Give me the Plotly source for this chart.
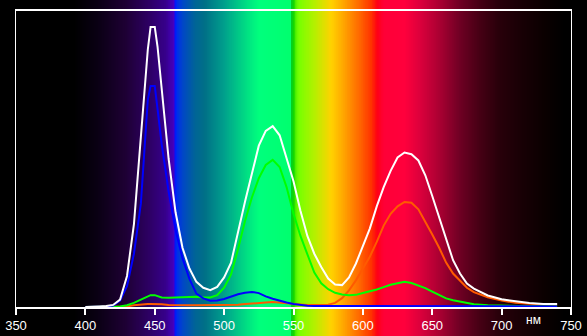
import numpy as np
import plotly.graph_objects as go

# ---- data ----
wavelength = [400, 405, 410, 415, 420, 425, 430, 435, 440, 445, 447, 450, 452,
              455, 460, 465, 470, 475, 480, 485, 490, 495, 500,
              505, 510, 515, 520, 525, 530, 535, 540, 545, 550,
              555, 560, 565, 570, 575, 580, 585, 590, 595, 600,
              605, 610, 615, 620, 625, 630, 635, 640, 645, 650,
              655, 660, 665, 670, 675, 680,
              690, 700, 710, 720, 730, 740]

white = [0, 0, 0.2, 0.3, 0.7, 2.5, 10.5, 28, 58, 87, 94.6, 94.6, 88,
         73.5, 50, 32, 20, 13, 8.5, 6.5, 5.7, 6.8, 10,
         15, 25.5, 35.5, 45, 54.5, 59.5, 61.1, 58, 50.5, 42.5,
         32.5, 24, 18, 13.5, 9.6, 7.6, 7.4, 10, 14.7, 20.5,
         26.5, 34, 40.5, 46, 50.5, 52.2, 51.6, 49.5, 44.5, 37.5,
         30, 22.5, 15.8, 11.3, 7.9, 6.2,
         3.9, 2.6, 1.85, 1.35, 1.05, 1.0]

blue = [0, 0, 0.1, 0.2, 0.5, 2.2, 7, 18, 35, 70, 74.7, 74.7, 67,
        55, 39, 26, 16.5, 9.5, 4.5, 2.9, 2.1, 2.2, 2.7,
        3.5, 4.3, 4.8, 5.1, 4.7, 3.6, 2.8, 2.1, 1.5, 1.0,
        0.6, 0.4, 0.35, 0.3, 0.3, 0.3, 0.3, 0.3, 0.3, 0.3,
        0.3, 0.3, 0.3, 0.3, 0.3, 0.3, 0.3, 0.3, 0.3, 0.3,
        0.25, 0.25, 0.25, 0.25, 0.25, 0.25,
        0.2, 0.2, 0.2, 0.2, 0.2, 0.2]

green = [0, 0, 0, 0, 0, 0.2, 0.6, 1.4, 2.5, 3.7, 4, 4, 3.7,
         3.2, 3.1, 3.2, 3.5, 3.5, 3.5, 3.2, 3.2, 4, 6.5,
         11, 19.5, 29, 37, 43.5, 48, 49.7, 47.3, 40.5, 31.5,
         24, 17.5, 11.6, 8, 6, 4.8, 4.2, 4, 4.1, 4.7,
         5.2, 5.9, 6.7, 7.5, 8, 8.5, 8.1, 7.2, 6.4, 5.2,
         4.1, 2.9, 2.3, 1.8, 1.2, 0.9,
         0.55, 0.4, 0.3, 0.25, 0.2, 0.15]

red = [0, 0, 0, 0, 0, 0, 0.2, 0.6, 0.9, 1, 1, 1, 1,
       0.9, 0.7, 0.6, 0.6, 0.6, 0.6, 0.6, 0.6, 0.6, 0.6,
       0.7, 0.8, 1, 1.1, 1.3, 1.5, 1.7, 1.6, 1.3, 1,
       0.8, 0.7, 0.7, 0.7, 0.8, 1.4, 3, 5.6, 9, 13,
       17, 22, 27.5, 31.5, 34, 35.5, 35.2, 33, 29, 24.5,
       20, 15, 11.3, 8.9, 6.5, 5,
       3.3, 2.2, 1.4, 1.1, 0.95, 0.8]

tick_values = [350, 400, 450, 500, 550, 600, 650, 700, 750]
unit_label = "нм"

# ---- background spectrum colours (wavelength -> rgb) ----
spectrum = [
    (350, (0, 0, 0)), (392, (0, 0, 0)), (409, (10, 0, 20)), (429, (30, 0, 52)),
    (446, (45, 0, 100)), (458, (55, 0, 140)), (463.5, (70, 0, 190)),
    (464.5, (0, 20, 255)), (466, (0, 45, 235)), (470, (0, 70, 200)),
    (479, (0, 100, 150)), (486, (0, 112, 135)), (500, (0, 160, 140)),
    (518, (0, 230, 130)), (525, (0, 255, 125)), (547.5, (0, 255, 110)),
    (548, (0, 205, 40)), (550, (20, 215, 0)), (552, (90, 245, 0)),
    (554, (120, 255, 0)),
    (565, (180, 240, 0)), (577, (255, 210, 0)), (587, (255, 160, 0)),
    (598, (255, 100, 0)), (606, (255, 50, 0)), (610, (255, 0, 20)),
    (615, (255, 0, 55)), (630, (255, 0, 60)), (641, (220, 0, 60)),
    (655, (170, 0, 50)), (670, (110, 0, 35)), (684, (70, 0, 20)),
    (698, (40, 0, 10)), (713, (25, 0, 5)), (731, (10, 0, 0)),
    (745, (0, 0, 0)), (750, (0, 0, 0)),
]
colorscale = [[(w - 350) / 400, "rgb(%d,%d,%d)" % c] for w, c in spectrum]

bg_x = np.arange(350, 750.01, 0.5)

fig = go.Figure()
fig.add_trace(go.Heatmap(x=bg_x, y=[0, 1], z=[bg_x], colorscale=colorscale,
                         zmin=350, zmax=750, showscale=False, hoverinfo="skip",
                         xaxis="x", yaxis="y"))

for vals, col in [(red, "#ff5a00"), (green, "#00ff00"), (blue, "#0000ff"), (white, "#ffffff")]:
    fig.add_trace(go.Scatter(x=wavelength, y=vals, mode="lines",
                             line=dict(color=col, width=2),
                             xaxis="x2", yaxis="y2", hoverinfo="skip"))

fig.update_layout(
    width=587, height=336,
    margin=dict(l=16, r=16, t=0, b=0),
    paper_bgcolor="black", plot_bgcolor="rgba(0,0,0,0)",
    showlegend=False,
    xaxis=dict(domain=[0, 1], range=[350, 750], visible=False),
    yaxis=dict(domain=[0, 1], range=[0, 1], visible=False),
    xaxis2=dict(domain=[0, 1], anchor="y2", range=[350, 750],
                showline=True, linecolor="white", linewidth=1.5, mirror=True,
                ticks="outside", tickcolor="white", ticklen=6, tickwidth=1.5,
                tickvals=tick_values, showgrid=False, zeroline=False,
                tickfont=dict(color="white", size=13, family="Liberation Sans, Arial")),
    yaxis2=dict(domain=[29 / 336, 325 / 336], anchor="x2", range=[0, 100],
                showline=True, linecolor="white", linewidth=1, mirror=True,
                showticklabels=False, ticks="", showgrid=False, zeroline=False),
    annotations=[dict(text=unit_label, x=723.3, xref="x2", y=16 / 336, yref="paper",
                      showarrow=False, yanchor="middle",
                      font=dict(color="white", size=12, family="Liberation Sans, Arial"))],
)

fig.write_html("out.html")
